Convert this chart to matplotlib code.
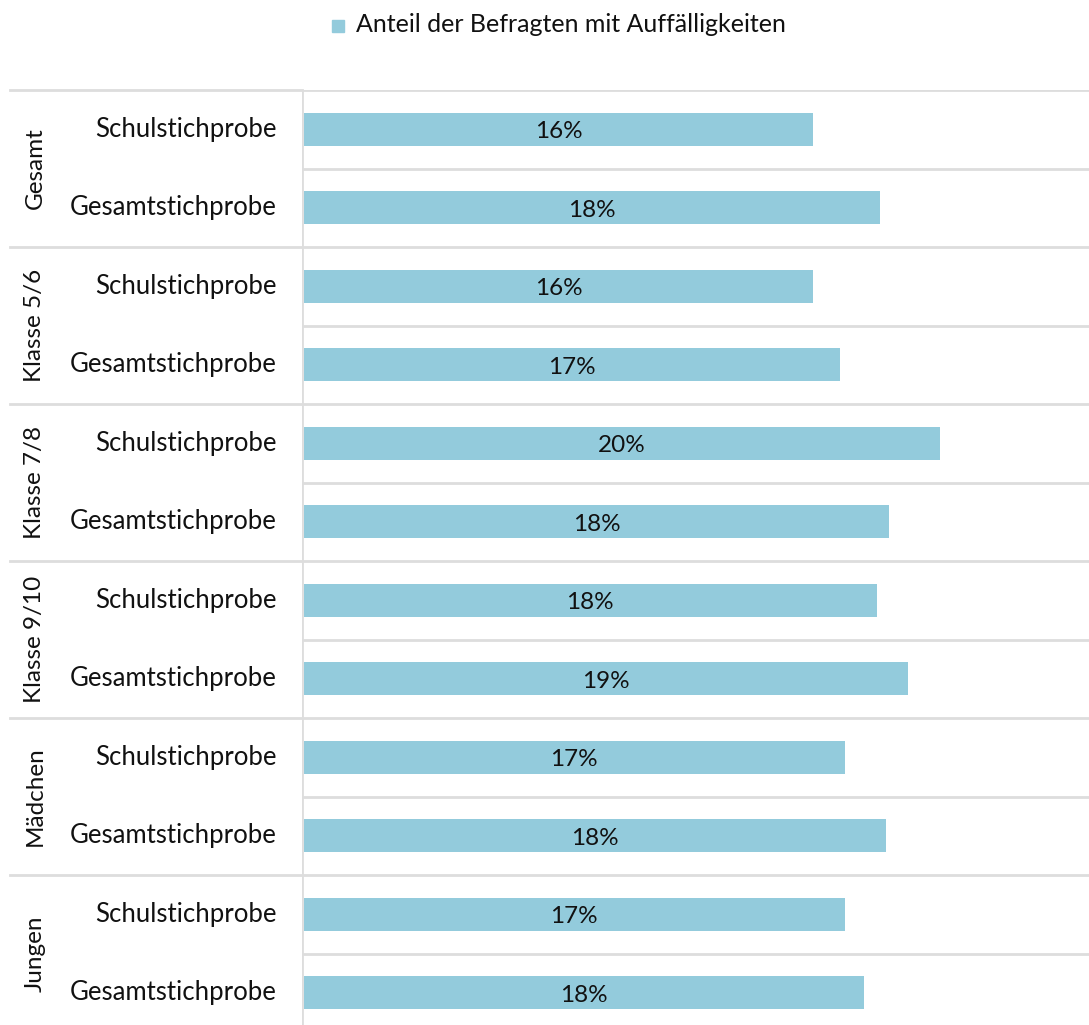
import numpy as np
import matplotlib.pyplot as plt
from matplotlib.patches import Rectangle

plt.rcParams['font.family'] = ['Lato', 'DejaVu Sans']

groups = ['Gesamt', 'Klasse 5/6', 'Klasse 7/8', 'Klasse 9/10', 'Mädchen', 'Jungen']
samples = ['Schulstichprobe', 'Gesamtstichprobe']
values = [16.0, 18.1, 16.0, 16.85, 20.0, 18.4, 18.0, 19.0, 17.0, 18.3, 17.0, 17.6]
labels = ['16%', '18%', '16%', '17%', '20%', '18%', '18%', '19%', '17%', '18%', '17%', '18%']
series_name = 'Anteil der Befragten mit Auffälligkeiten'

bar_col = '#93cbdc'
grid_col = '#dddddd'

W, H = 1089, 1025
fig = plt.figure(figsize=(W / 100, H / 100), dpi=100)
# axes in pixel terms: left 302, right 1089, top 90, bottom 1032
ax = fig.add_axes([302 / W, 1 - 1032 / H, (W - 302) / W, (1032 - 90) / H])

n = len(values)
y = np.arange(n)
ax.barh(y, values, height=0.42, color=bar_col, zorder=2)
for yi, v, lab in zip(y, values, labels):
    ax.text(v / 2, yi + 0.03, lab, ha='center', va='center', fontsize=17.5, color='#111111', zorder=3)

ax.set_xlim(-0.06, 24.68)
ax.set_ylim(n - 0.5, -0.5)
ax.set_xticks([])
ax.set_yticks([])
for s in ax.spines.values():
    s.set_visible(False)

# lines between rows inside the plot
for b in np.arange(-0.5, n, 1.0):
    ax.axhline(b, color=grid_col, lw=2, zorder=1)
ax.axvline(-0.06, color=grid_col, lw=2, zorder=1)

# sample labels and group separators in the left margin
trans = ax.get_yaxis_transform()
for i in range(n):
    ax.text(-25 / (W - 302), i, samples[i % 2], transform=trans, ha='right', va='center',
            fontsize=18.5, color='#111111', clip_on=False)
for g, name in enumerate(groups):
    top = 2 * g - 0.5
    ax.plot([-292 / (W - 302), 0], [top, top], transform=trans, color=grid_col, lw=2,
            clip_on=False)
    ax.text(-267 / (W - 302), 2 * g + 0.5, name, transform=trans, rotation=90,
            ha='center', va='center', fontsize=17.5, color='#111111', clip_on=False)

# legend
fig.patches.append(Rectangle((332 / W, 1 - 32 / H), 12 / W, 12 / H, transform=fig.transFigure,
                             color=bar_col))
fig.text(356 / W, 1 - 25 / H, series_name, ha='left', va='center', fontsize=18, color='#111111')

fig.savefig('out.png', dpi=100)
